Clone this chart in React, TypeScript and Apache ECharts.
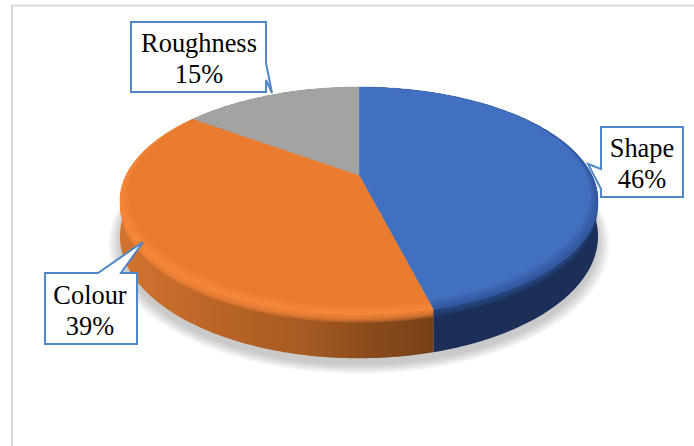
import React, { useEffect, useRef } from "react";
import * as echarts from "echarts";

const categories = ["Shape", "Colour", "Roughness"];
const shares = [46, 39, 15];

const topColors = ["#4170C0", "#EA7C30", "#A3A3A3"];
const rimColors = ["rgba(30,58,116,0.09)", "rgba(255,146,70,0.15)", "rgba(0,0,0,0)"];
const bevelColors = ["rgba(40,72,134,0.3)", "rgba(248,135,58,0.3)", "rgba(163,163,163,0.3)"];
const wallStops = [
  [
    [0, "#1B2F58"],
    [1, "#1B2F58"],
  ],
  [
    [0, "#D27430"],
    [0.3, "#BB6527"],
    [0.6, "#A55A22"],
    [0.8, "#8A4B1C"],
    [1, "#774116"],
  ],
  [
    [0, "#6E6E6E"],
    [1, "#6E6E6E"],
  ],
];

// Callout shapes, one per category, in page pixels.
const calloutOutlines = [
  [[601, 127], [683, 127], [683, 197], [601, 197], [601, 189], [588, 164], [601, 169]],
  [[45, 273], [98, 273], [143, 242], [121, 273], [137, 273], [137, 344], [45, 344]],
  [[131, 22], [266, 22], [266, 63], [272, 93], [266, 80], [266, 92], [131, 92]],
];
const calloutAnchors = [
  [642, 163],
  [90, 310],
  [199, 58.5],
];

// Perspective disc: the unit circle is projected so that the centre sits above the ellipse middle.
const CX = 359;
const CY = 175;
const SCALE_X = 232.7;
const SCALE_Y = 108;
const TILT = 0.228;
const DEPTH = 33.5;
const BEVEL = 6;

// dy is a drop below the disc, foreshortened the same way as the disc itself.
const project = (t: number, r = 1, dy = 0): number[] => {
  const u = r * Math.sin(t);
  const v = -r * Math.cos(t);
  const w = 1 - TILT * v;
  return [CX + (SCALE_X * u) / w, CY + (SCALE_Y * v + dy) / w];
};

const steps = (a0: number, a1: number) => Math.max(2, Math.ceil(((a1 - a0) * 180) / Math.PI));

const arc = (a0: number, a1: number, r = 1, dy = 0): number[][] => {
  const n = steps(a0, a1);
  const pts: number[][] = [];
  for (let i = 0; i <= n; i++) pts.push(project(a0 + ((a1 - a0) * i) / n, r, dy));
  return pts;
};

// Inner edge of the rim band: the band narrows to nothing towards the back of the disc.
const rimArc = (a0: number, a1: number, r: number): number[][] => {
  const n = steps(a0, a1);
  const pts: number[][] = [];
  for (let i = 0; i <= n; i++) {
    const t = a0 + ((a1 - a0) * i) / n;
    const f = Math.min(1, Math.max(0, 0.5 - 0.7 * Math.cos(t)));
    pts.push(project(t, 1 - (1 - r) * f));
  }
  return pts;
};

const range = (index: number): number[] => {
  const total = shares.reduce((s, v) => s + v, 0);
  const before = shares.slice(0, index).reduce((s, v) => s + v, 0);
  const a0 = (before / total) * Math.PI * 2;
  return [a0, a0 + (shares[index] / total) * Math.PI * 2];
};

const wallFill = (i: number) =>
  new echarts.graphic.LinearGradient(
    120,
    0,
    433,
    0,
    wallStops[i].map(([offset, color]) => ({ offset: offset as number, color: color as string })),
    true
  );

// Soft ground shadow: stacked translucent discs under the wall.
const renderShadow = () => ({
  type: "group",
  children: [1.045, 1.038, 1.031, 1.024, 1.017, 1.01, 1.003].map((r) => ({
    type: "polygon",
    shape: { points: arc(0, Math.PI * 2, r, DEPTH + 5) },
    style: { fill: "rgba(60,60,60,0.04)" },
  })),
});

const renderWall = (params: any) => {
  const i = params.dataIndex;
  const [a0, a1] = range(i);
  const children: any[] = [
    {
      type: "polygon",
      shape: { points: [...arc(a0, a1), ...arc(a0, a1, 1, DEPTH).reverse()] },
      style: { fill: wallFill(i) },
    },
  ];
  for (let k = BEVEL; k >= 1; k--) {
    children.push({
      type: "polygon",
      shape: { points: [...arc(a0, a1), ...arc(a0, a1, 1, k).reverse()] },
      style: { fill: bevelColors[i] },
    });
  }
  return { type: "group", children };
};

const renderTop = (params: any) => {
  const i = params.dataIndex;
  const [a0, a1] = range(i);
  const children: any[] = [
    {
      type: "polygon",
      shape: { points: [[CX, CY], ...arc(a0, a1)] },
      style: { fill: topColors[i], stroke: topColors[i], lineWidth: 0.5 },
    },
  ];
  for (const r of [0.95, 0.96, 0.97, 0.98, 0.99]) {
    children.push({
      type: "polygon",
      shape: { points: [...arc(a0, a1), ...rimArc(a0, a1, r).reverse()] },
      style: { fill: rimColors[i] },
    });
  }
  return { type: "group", children };
};

const option: any = {
  animation: false,
  backgroundColor: "#ffffff",
  series: [
    { type: "custom", coordinateSystem: "none", silent: true, z: 2, data: [[1]], renderItem: renderShadow },
    { type: "custom", coordinateSystem: "none", silent: true, z: 3, data: shares.map((v) => [v]), renderItem: renderWall },
    { type: "custom", coordinateSystem: "none", silent: true, z: 4, data: shares.map((v) => [v]), renderItem: renderTop },
  ],
  graphic: [
    {
      type: "polyline",
      z: 1,
      silent: true,
      shape: { points: [[694, 5.5], [12, 5.5], [12, 446]] },
      style: { stroke: "#D9D9D9", lineWidth: 2, fill: "none" },
    },
    ...categories.flatMap((name, i) => [
      {
        type: "polygon",
        z: 20,
        silent: true,
        shape: { points: calloutOutlines[i] },
        style: { fill: "#ffffff", stroke: "#5087C7", lineWidth: 2 },
      },
      {
        type: "text",
        z: 21,
        silent: true,
        x: calloutAnchors[i][0],
        y: calloutAnchors[i][1],
        style: {
          text: `${name}\n${shares[i]}%`,
          fill: "#000000",
          font: '26.4px "Liberation Serif"',
          lineHeight: 31,
          align: "center",
          verticalAlign: "middle",
        },
      },
    ]),
  ],
};

export default function App() {
  const ref = useRef<HTMLDivElement>(null);
  useEffect(() => {
    const chart = echarts.init(ref.current!, undefined, { renderer: "svg" });
    chart.setOption(option);
    return () => chart.dispose();
  }, []);
  return <div ref={ref} style={{ position: "absolute", left: 0, top: 0, width: 694, height: 446 }} />;
}
